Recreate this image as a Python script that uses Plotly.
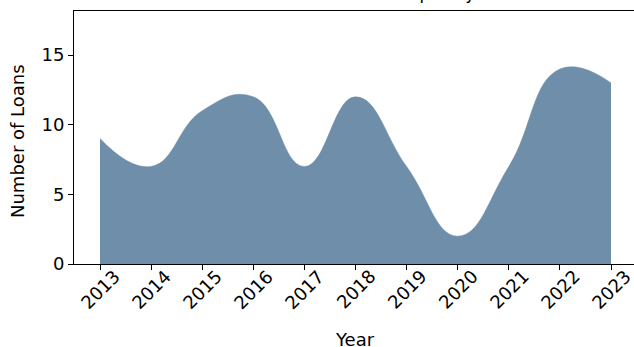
import plotly.graph_objects as go

years = [2013, 2014, 2015, 2016, 2017, 2018, 2019, 2020, 2021, 2022, 2023]
loans = [9, 7, 11, 12, 7, 12, 7, 2, 7, 14, 13]
y_ticks = [0, 5, 10, 15]
title_text = "Loan Disbursement Frequency"

FONT = "DejaVu Sans"
FILL = "rgb(110,142,170)"
FS = 18

fig = go.Figure()
fig.add_trace(go.Scatter(
    x=years, y=loans, mode="lines",
    line=dict(shape="spline", smoothing=1.3, width=0.5, color=FILL),
    fill="tozeroy", fillcolor=FILL, hoverinfo="skip", showlegend=False,
))

annotations = []
for yr in years:
    annotations.append(dict(
        x=yr, xref="x", y=-(289 - 264) / 253, yref="paper",
        text=str(yr), showarrow=False, textangle=-45,
        xanchor="center", yanchor="middle",
        font=dict(family=FONT, size=FS, color="black"),
    ))
annotations.append(dict(
    x=(355 - 74) / 560, xref="paper", y=-(339 - 264) / 253, yref="paper",
    text="Year", showarrow=False, xanchor="center", yanchor="middle",
    font=dict(family=FONT, size=FS, color="black"),
))
annotations.append(dict(
    x=-(74 - 18) / 560, xref="paper", y=(264 - 141) / 253, yref="paper",
    text="Number of Loans", showarrow=False, textangle=-90,
    xanchor="center", yanchor="middle",
    font=dict(family=FONT, size=FS, color="black"),
))
annotations.append(dict(
    x=(346 - 74) / 560, xref="paper", y=1 + (11 - 5) / 253, yref="paper",
    text=title_text, showarrow=False, xanchor="center", yanchor="bottom",
    font=dict(family=FONT, size=17, color="black"),
))

fig.update_layout(
    width=634, height=347,
    margin=dict(l=74, r=0, t=11, b=83, pad=0),
    paper_bgcolor="white", plot_bgcolor="white",
    font=dict(family=FONT, size=FS, color="black"),
    annotations=annotations,
    xaxis=dict(
        range=[2013 - 26 / 51.1, 2023 + 23 / 51.1],
        tickmode="array", tickvals=years, showticklabels=False,
        ticks="outside", ticklen=5, tickwidth=1.1, tickcolor="black",
        showline=True, linecolor="black", linewidth=1.1, mirror=True,
        showgrid=False, zeroline=False,
    ),
    yaxis=dict(
        range=[0, 18.16],
        tickmode="array", tickvals=y_ticks, ticktext=[str(v) for v in y_ticks],
        ticks="outside", ticklen=5, tickwidth=1.1, tickcolor="black",
        tickfont=dict(family=FONT, size=FS, color="black"),
        showline=True, linecolor="black", linewidth=1.1,
        showgrid=False, zeroline=False,
    ),
)

fig.write_html(
    "out.html",
    config={"displayModeBar": False},
    post_script="document.body.style.margin='0px';document.body.style.overflow='hidden';",
)
